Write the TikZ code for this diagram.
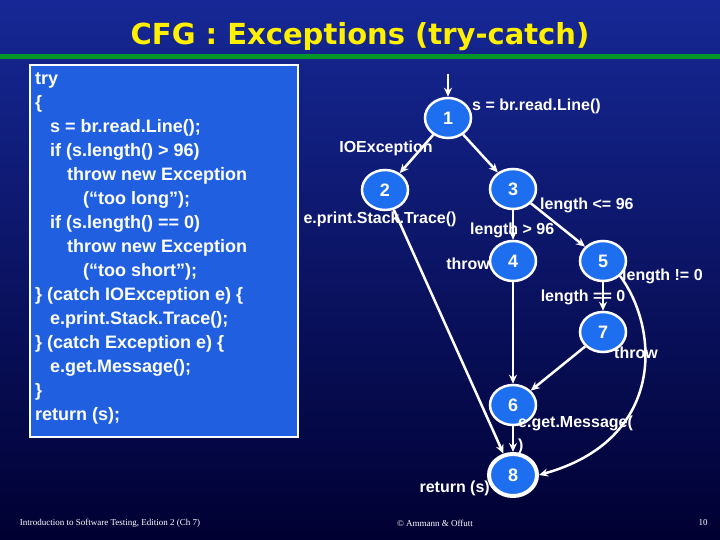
\documentclass[tikz,border=0pt]{standalone}
\usepackage{fontspec}
\setmainfont{Liberation Sans}
\newfontfamily\titlefont{DejaVu Sans}
\newfontfamily\footfont{Liberation Serif}
\usetikzlibrary{arrows.meta}
\definecolor{bgtop}{RGB}{22,40,150}
\definecolor{bgbot}{RGB}{0,0,50}
\definecolor{codebox}{RGB}{32,96,224}
\definecolor{nodeblue}{RGB}{30,110,240}
\definecolor{titleyellow}{RGB}{255,240,0}
\definecolor{rulegreen}{RGB}{0,150,40}
\tikzset{
  cfgnode/.style={ellipse,draw=white,line width=2.5pt,fill=nodeblue,minimum width=46pt,minimum height=40pt,inner sep=0pt,text=white,font=\bfseries\fontsize{18}{18}\selectfont},
  cfgedge/.style={draw=white,line width=2.5pt,-{Stealth[length=9pt,width=8pt]}},
  lbl/.style={text=white,font=\bfseries\fontsize{16}{16}\selectfont,inner sep=0pt},
  codeline/.style={anchor=west,text=white,font=\bfseries\fontsize{18}{18}\selectfont,inner sep=0pt},
  foot/.style={text=white,font=\footfont\fontsize{9}{9}\selectfont,inner sep=0pt}
}
\usetikzlibrary{shapes.geometric}
\begin{document}
\begin{tikzpicture}[x=1pt,y=-1pt]
\useasboundingbox (0,0) rectangle (720,540);
\shade[top color=bgtop,bottom color=bgbot] (0,0) rectangle (720,540);

% title
\node[text=titleyellow,font=\titlefont\bfseries\fontsize{29}{29}\selectfont] (title) at (360,37) {CFG : Exceptions (try-catch)};
\draw[rulegreen,line width=5pt] (0,57) -- (720,57);

% code
\draw[white,line width=2pt,fill=codebox] (30,65) rectangle (298,437);
\node[codeline] (c1) at (35,80) {try};
\node[codeline] (c2) at (35,104) {\{};
\node[codeline] (c3) at (50,128) {s = br.read.Line();};
\node[codeline] (c4) at (50,152) {if (s.length() > 96)};
\node[codeline] (c5) at (67,176) {throw new Exception};
\node[codeline] (c6) at (83,200) {(“too long”);};
\node[codeline] (c7) at (50,224) {if (s.length() == 0)};
\node[codeline] (c8) at (67,248) {throw new Exception};
\node[codeline] (c9) at (83,272) {(“too short”);};
\node[codeline] (c10) at (35,296) {\} (catch IOException e) \{};
\node[codeline] (c11) at (50,320) {e.print.Stack.Trace();};
\node[codeline] (c12) at (35,344) {\} (catch Exception e) \{};
\node[codeline] (c13) at (50,368) {e.get.Message();};
\node[codeline] (c14) at (35,392) {\}};
\node[codeline] (c15) at (35,416) {return (s);};

% graph
\coordinate (start) at (448,74);
\node[cfgnode] (n1) at (448,118) {1};
\node[cfgnode] (n2) at (385,190) {2};
\node[cfgnode] (n3) at (513,189) {3};
\node[cfgnode] (n4) at (513,261) {4};
\node[cfgnode] (n5) at (603,261) {5};
\node[cfgnode] (n7) at (603,332) {7};
\node[cfgnode] (n6) at (513,405) {6};
\node[cfgnode,line width=4pt,minimum width=48pt,minimum height=42pt] (n8) at (513,475) {8};

\draw[cfgedge] (start) -- (n1);
\draw[cfgedge] (n1) -- (n2);
\draw[cfgedge] (n1) -- (n3);
\draw[cfgedge] (n3) -- (n4);
\draw[cfgedge] (n3) -- (n5);
\draw[cfgedge] (n5) -- (n7);
\draw[cfgedge] (n4) -- (n6);
\draw[cfgedge] (n7) -- (n6);
\draw[cfgedge] (n6) -- (n8);
\draw[cfgedge] (n2) -- (n8);
\draw[cfgedge] (n5.south east) .. controls (660,330) and (665,440) .. (n8.east);

\node[lbl,anchor=west] (l1) at (472,106) {s = br.read.Line()};
\node[lbl] (l12) at (386,148) {IOException};
\node[lbl] (l2) at (380,219) {e.print.Stack.Trace()};
\node[lbl,anchor=west] (l35) at (540,205) {length <= 96};
\node[lbl,anchor=west] (l34) at (470,230) {length > 96};
\node[lbl,anchor=east] (l4) at (490,264) {throw};
\node[lbl,anchor=west] (l58) at (622,276) {length != 0};
\node[lbl] (l57) at (583,297) {length == 0};
\node[lbl,anchor=west] (l7) at (614,353) {throw};
\node[lbl,anchor=west] (l6) at (518,423) {e.get.Message(};
\node[lbl,anchor=west] (l6b) at (518,446) {)};
\node[lbl,anchor=east] (l8) at (490,488) {return (s)};

% footer
\node[foot] (f1) at (110,523) {Introduction to Software Testing, Edition 2 (Ch 7)};
\node[foot] (f2) at (435,523) {© Ammann \& Offutt};
\node[foot] (f3) at (703,523) {10};
\end{tikzpicture}
\end{document}
